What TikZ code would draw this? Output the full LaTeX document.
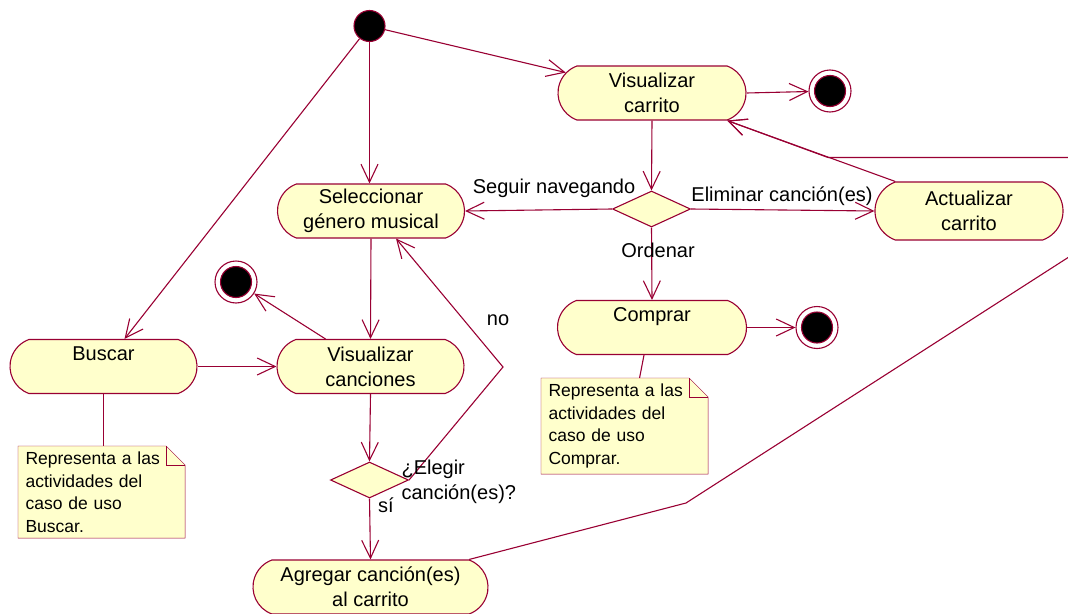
\documentclass[tikz,border=0pt]{standalone}
\usepackage{fontspec}
\setmainfont{Liberation Sans}
\usetikzlibrary{arrows.meta,shapes.misc,shapes.geometric,backgrounds}
\definecolor{rose}{RGB}{153,0,51}
\definecolor{cream}{RGB}{255,255,204}
\newcommand\lblfont{\fontsize{20}{25}\selectfont}
\newcommand\notefont{\fontsize{17.5}{22.5}\selectfont}
% note outline with folded corner, drawn behind the note text
\newcommand\drawnote[1]{%
  \begin{scope}[on background layer]
    \filldraw[draw=rose, fill=cream] (#1.south west) -- (#1.north west)
      -- ([xshift=-19pt]#1.north east) -- ([yshift=-19pt]#1.north east)
      -- (#1.south east) -- cycle;
    \draw[rose] ([xshift=-19pt]#1.north east)
      -- ([xshift=-19pt,yshift=-19pt]#1.north east) -- ([yshift=-19pt]#1.north east);
  \end{scope}}

\begin{document}
\begin{tikzpicture}[x=1pt,y=-1pt,line width=1.1pt,
  activity/.style={rounded rectangle, rounded rectangle arc length=140,
    draw=rose, fill=cream, minimum height=54pt, inner sep=0pt,
    align=center, font=\lblfont},
  startnode/.style={circle, draw=rose, fill=black, minimum size=31pt, inner sep=0pt},
  finalnode/.style={circle, draw=rose, fill=white, minimum size=42pt, inner sep=0pt,
    path picture={\filldraw[draw=rose, fill=black]
      (path picture bounding box.center) circle (15.5pt);}},
  decision/.style={diamond, draw=rose, fill=cream, minimum width=78pt,
    minimum height=36pt, inner sep=0pt},
  flow/.style={draw=rose, -{Straight Barb[length=18pt,width=17pt]}},
  link/.style={draw=rose},
  lbl/.style={font=\lblfont, anchor=base, inner sep=0pt},
  notebox/.style={rectangle, anchor=north west, minimum width=166pt,
    text width=152pt, align=left, inner xsep=7pt, inner ysep=3pt, font=\notefont}]

\clip (0,0) rectangle (1068,613);

% states
\node[startnode] (init) at (369.5,26) {};
\node[activity, minimum width=188pt] (vcar) at (652,93) {Visualizar\\carrito};
\node[finalnode] (f1) at (830,91) {};
\node[activity, minimum width=187pt] (sel) at (371,211) {Seleccionar\\género musical};
\node[decision] (d1) at (651.5,209) {};
\node[activity, minimum width=188pt, minimum height=58pt] (act) at (969,211) {Actualizar\\carrito};
\node[activity, minimum width=189pt] (comp) at (652,327.5) {Comprar\\~};
\node[finalnode] (f2) at (817,327.5) {};
\node[finalnode] (f3) at (236,282) {};
\node[activity, minimum width=187pt] (busc) at (103.5,366.5) {Buscar\\~};
\node[activity, minimum width=187pt] (vcan) at (370.5,366.5) {Visualizar\\canciones};
\node[decision] (d2) at (369.5,480) {};
\node[activity, minimum width=235pt] (agr) at (370.5,587) {Agregar canción(es)\\al carrito};

% notes
\node[notebox, minimum height=91pt] (nb) at (18,446)
  {Representa a las\\actividades del\\caso de uso\\Buscar.};
\drawnote{nb}
\node[notebox, minimum height=95pt, minimum width=165pt] (nc) at (541,378)
  {Representa a las\\actividades del\\caso de uso\\Comprar.};
\drawnote{nc}

% transitions
\draw[flow] (init) -- (vcar);
\draw[flow] (init) -- (init |- sel.north);
\draw[flow] (init) -- ([xshift=21pt]busc.north);
\draw[flow] (vcar.east) -- (f1);
\draw[flow] (vcar.south) -- (d1.north);
\draw[flow] (d1.west) -- (sel.east);
\draw[flow] (d1.east) -- (act.west);
\draw[flow] (d1.south) -- (comp.north);
\draw[flow] (act.north west) -- (vcar.south east);
\draw[flow] (agr.north east) -- (686,503) -- (1100,237) -- (1100,157.5)
  -- (828,157.5) -- (vcar.south east);
\draw[flow] (comp.east) -- (f2);
\draw[flow] (sel.south) -- (vcan.north);
\draw[flow] (busc.east) -- (vcan.west);
\draw[flow] ([xshift=-45pt]vcan.north) -- (f3);
\draw[flow] (vcan.south) -- (d2.north);
\draw[flow] (d2.east) -- (503,367) -- ([xshift=25pt]sel.south);
\draw[flow] (d2.south) -- (agr.north);
\draw[link] (busc.south) -- (busc.south |- nb.north);
\draw[link] ([xshift=-8pt]comp.south) -- ([xshift=15pt]nc.north);

% guard labels
\node[lbl] (lseg) at (554,193) {Seguir navegando};
\node[lbl] (lelim) at (782,201) {Eliminar canción(es)};
\node[lbl] (lord) at (658,257) {Ordenar};
\node[lbl] (lno) at (498,325) {no};
\node[lbl] (lsi) at (386,512) {sí};
\node[font=\lblfont, anchor=west, align=left, inner sep=0pt] (lelegir) at (401,482)
  {¿Elegir\\canción(es)?};
\end{tikzpicture}
\end{document}
